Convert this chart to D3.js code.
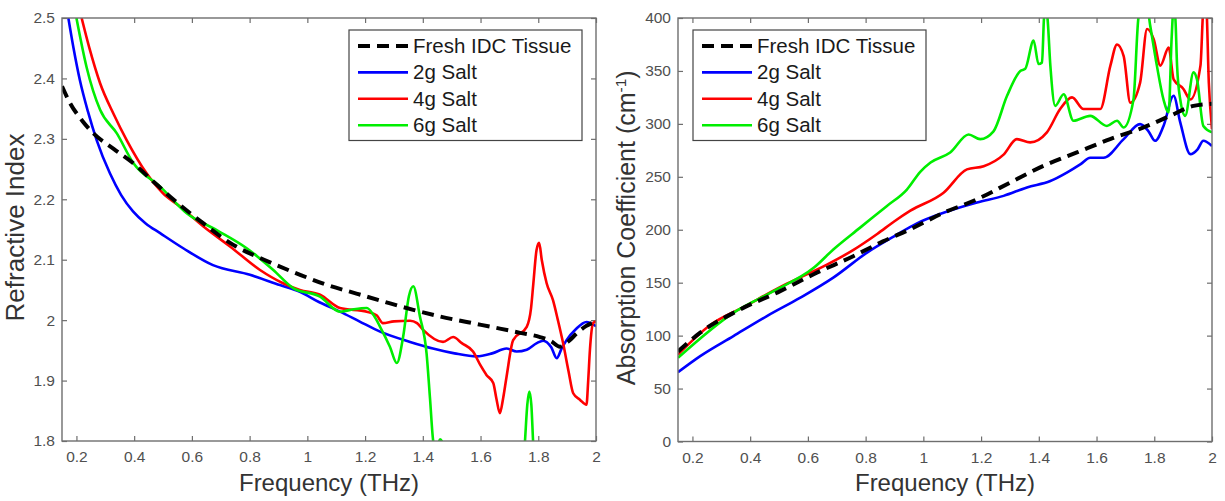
<!DOCTYPE html>
<html>
<head>
<meta charset="utf-8">
<script src="https://cdn.jsdelivr.net/npm/d3@7"></script>
<style>
  html, body { margin: 0; padding: 0; background: #fff; }
  svg { display: block; font-family: "Liberation Sans", Arial, Helvetica, sans-serif; }
</style>
</head>
<body>
<svg id="chart" width="1225" height="501"></svg>
<script>
// ---- shared axis ticks ----
const freqTicks = [0.2, 0.4, 0.6, 0.8, 1, 1.2, 1.4, 1.6, 1.8, 2];
const freqTickLabels = ["0.2", "0.4", "0.6", "0.8", "1", "1.2", "1.4", "1.6", "1.8", "2"];
const riTicks = [1.8, 1.9, 2, 2.1, 2.2, 2.3, 2.4, 2.5];
const riTickLabels = ["1.8", "1.9", "2", "2.1", "2.2", "2.3", "2.4", "2.5"];
const absTicks = [0, 50, 100, 150, 200, 250, 300, 350, 400];
const absTickLabels = ["0", "50", "100", "150", "200", "250", "300", "350", "400"];

const seriesNames = ["Fresh IDC Tissue", "2g Salt", "4g Salt", "6g Salt"];
const seriesColors = ["#000000", "#0000ff", "#ff0000", "#00ee00"];

// ---- refractive index (frequency THz, index) ----
const riFresh = [[0.15,2.387],[0.177,2.36],[0.22,2.33],[0.257,2.31],[0.33,2.283],[0.396,2.26],[0.465,2.23],[0.535,2.2],[0.64,2.16],[0.742,2.125],[0.85,2.1],[0.975,2.075],[1.07,2.058],[1.17,2.044],[1.27,2.03],[1.367,2.017],[1.46,2.006],[1.552,1.997],[1.667,1.986],[1.737,1.979],[1.806,1.972],[1.845,1.965],[1.875,1.956],[1.905,1.965],[1.933,1.978],[1.965,1.99],[2.0,1.998]];
const ri2g = [[0.172,2.5],[0.19,2.45],[0.212,2.397],[0.24,2.345],[0.27,2.298],[0.316,2.243],[0.355,2.207],[0.396,2.18],[0.44,2.16],[0.49,2.144],[0.57,2.119],[0.673,2.091],[0.801,2.075],[0.905,2.058],[0.974,2.047],[1.04,2.03],[1.113,2.014],[1.18,1.998],[1.252,1.981],[1.356,1.964],[1.435,1.953],[1.51,1.945],[1.587,1.94],[1.64,1.945],[1.69,1.953],[1.725,1.948],[1.76,1.951],[1.795,1.962],[1.817,1.966],[1.845,1.955],[1.864,1.937],[1.88,1.952],[1.898,1.967],[1.93,1.985],[1.967,1.997],[2.0,1.99]];
const ri4g = [[0.218,2.5],[0.245,2.45],[0.282,2.392],[0.33,2.34],[0.374,2.298],[0.443,2.243],[0.5,2.21],[0.559,2.188],[0.64,2.155],[0.732,2.122],[0.836,2.083],[0.916,2.061],[0.974,2.05],[1.044,2.042],[1.113,2.02],[1.206,2.014],[1.24,2.008],[1.262,1.995],[1.3,1.998],[1.356,1.999],[1.38,1.995],[1.401,1.984],[1.47,1.964],[1.505,1.972],[1.535,1.962],[1.574,1.948],[1.6,1.925],[1.621,1.909],[1.644,1.896],[1.655,1.87],[1.667,1.846],[1.678,1.87],[1.69,1.906],[1.713,1.967],[1.76,1.989],[1.775,2.02],[1.783,2.061],[1.794,2.116],[1.803,2.128],[1.812,2.1],[1.829,2.061],[1.851,2.033],[1.868,2.0],[1.886,1.962],[1.905,1.915],[1.921,1.879],[1.945,1.868],[1.967,1.86],[1.973,1.9],[1.979,1.951],[1.99,1.995],[2.0,1.998]];
const ri6g = [[0.2,2.5],[0.235,2.419],[0.282,2.348],[0.34,2.309],[0.397,2.26],[0.49,2.221],[0.582,2.177],[0.686,2.149],[0.79,2.119],[0.882,2.083],[0.951,2.053],[1.044,2.039],[1.113,2.014],[1.16,2.018],[1.206,2.02],[1.23,2.008],[1.252,1.989],[1.286,1.956],[1.31,1.929],[1.332,1.973],[1.352,2.04],[1.367,2.056],[1.39,2.006],[1.413,1.945],[1.425,1.87],[1.436,1.80],[1.445,1.785],[1.46,1.803],[1.475,1.785],[1.49,1.7],[1.74,1.7],[1.754,1.80],[1.762,1.86],[1.769,1.882],[1.776,1.86],[1.782,1.80],[1.795,1.7]];

// ---- absorption coefficient (frequency THz, cm^-1) ----
const absFresh = [[0.15,85],[0.227,102.8],[0.366,124.8],[0.504,142],[0.62,158],[0.757,175],[0.86,189],[0.955,200.5],[1.07,216],[1.186,228.8],[1.301,244.6],[1.416,260.3],[1.532,273],[1.647,285.6],[1.763,296.6],[1.855,307.6],[1.936,317],[2.0,319]];
const abs2g = [[0.15,65.5],[0.227,80.7],[0.342,99.6],[0.458,118.5],[0.574,135.9],[0.688,154.8],[0.805,178.4],[0.9,194],[0.978,206],[1.07,216],[1.186,225.7],[1.278,232],[1.359,240],[1.44,246],[1.497,254],[1.545,262],[1.578,268],[1.624,268],[1.694,285.6],[1.751,299.8],[1.78,293],[1.803,284],[1.832,298],[1.867,326.5],[1.89,301.4],[1.925,271.4],[1.95,276],[1.97,284],[2.0,279]];
const abs4g = [[0.15,82],[0.262,110],[0.377,127],[0.527,149],[0.666,167],[0.758,181],[0.84,196],[0.9,208],[0.955,218],[1.07,235],[1.151,257],[1.209,260],[1.278,271],[1.324,285.6],[1.37,282.5],[1.428,292],[1.474,314],[1.515,325],[1.555,314],[1.613,314],[1.648,355],[1.671,375],[1.694,364],[1.717,320],[1.751,339],[1.775,389.6],[1.798,380],[1.821,355],[1.85,372],[1.867,342],[1.901,333],[1.925,323],[1.96,355],[1.971,410],[1.98,410],[1.989,339],[2.0,295]];
const abs6g = [[0.15,79],[0.343,121.7],[0.481,142],[0.62,164],[0.689,181.6],[0.781,202],[0.874,222.5],[0.943,238],[0.99,255],[1.025,263.5],[1.093,273],[1.157,290],[1.197,285.6],[1.243,293],[1.29,326.5],[1.336,350],[1.353,352],[1.382,378.6],[1.399,356.5],[1.411,358],[1.418,400],[1.422,410],[1.43,400],[1.44,355],[1.457,317],[1.486,328],[1.52,303],[1.578,307.6],[1.636,298],[1.671,303],[1.694,296.6],[1.728,323],[1.745,400],[1.755,410],[1.775,410],[1.786,392.7],[1.809,355],[1.832,323],[1.85,311],[1.86,380],[1.867,410],[1.873,400],[1.879,355],[1.89,323],[1.907,307.6],[1.936,348.6],[1.948,342],[1.97,298],[2.0,292]];

const svg = d3.select("#chart");
const freqDomain = [0.15, 2];

function drawPanel(opts) {
  const { id, left, right, top, bottom, yDomain, yTicks, yTickLabels, series, yLabel, yLabelX, yLabelSize, legendX } = opts;
  const x = d3.scaleLinear().domain(freqDomain).range([left, right]);
  const y = d3.scaleLinear().domain(yDomain).range([bottom, top]);
  const g = svg.append("g").attr("class", id);

  g.append("clipPath").attr("id", id + "-clip")
    .append("rect").attr("x", left).attr("y", top).attr("width", right - left).attr("height", bottom - top);

  const tickStyle = sel => {
    sel.select(".domain").remove();
    sel.selectAll(".tick line").attr("stroke", "#6e6e6e").attr("stroke-width", 1.2);
    sel.selectAll(".tick text").attr("fill", "#505050").style("font-size", "15.5px");
  };

  // bottom / left labelled axes with inward ticks
  g.append("g").attr("transform", `translate(0,${bottom})`)
    .call(d3.axisBottom(x).tickValues(freqTicks).tickFormat((d, i) => freqTickLabels[i]).tickSize(-5).tickPadding(10))
    .call(tickStyle);
  g.append("g").attr("transform", `translate(${left},0)`)
    .call(d3.axisLeft(y).tickValues(yTicks).tickFormat((d, i) => yTickLabels[i]).tickSize(-5).tickPadding(7))
    .call(tickStyle);
  // mirrored ticks on top / right
  g.append("g").attr("transform", `translate(0,${top})`)
    .call(d3.axisTop(x).tickValues(freqTicks).tickFormat("").tickSize(-5))
    .call(tickStyle);
  g.append("g").attr("transform", `translate(${right},0)`)
    .call(d3.axisRight(y).tickValues(yTicks).tickFormat("").tickSize(-5))
    .call(tickStyle);

  // curves
  const line = d3.line().x(d => x(d[0])).y(d => y(d[1])).curve(d3.curveMonotoneX);
  const plot = g.append("g").attr("clip-path", `url(#${id}-clip)`);
  // draw the coloured series first, the dashed reference on top
  [1, 2, 3, 0].forEach(i => {
    plot.append("path").datum(series[i])
      .attr("fill", "none")
      .attr("stroke", seriesColors[i])
      .attr("stroke-width", i === 0 ? 4 : 2.6)
      .attr("stroke-dasharray", i === 0 ? "12,7" : null)
      .attr("stroke-linejoin", "round")
      .attr("d", line);
  });

  // box
  g.append("rect").attr("x", left).attr("y", top).attr("width", right - left).attr("height", bottom - top)
    .attr("fill", "none").attr("stroke", "#6e6e6e").attr("stroke-width", 1.4);

  // x label
  g.append("text").attr("x", (left + right) / 2).attr("y", 491)
    .attr("text-anchor", "middle").attr("fill", "#333").style("font-size", "24px")
    .text("Frequency (THz)");

  // y label
  const yl = g.append("text")
    .attr("transform", `translate(${yLabelX},${(top + bottom) / 2 - 2}) rotate(-90)`)
    .attr("text-anchor", "middle").attr("fill", "#333").style("font-size", yLabelSize + "px");
  yLabel.forEach(part => {
    const t = yl.append("tspan").text(part.text);
    if (part.sup) t.attr("dy", "-0.55em").style("font-size", "0.62em");
    if (part.after) t.attr("dy", "0.34em");
  });

  // legend
  const lg = g.append("g").attr("transform", `translate(${legendX},30)`);
  lg.append("rect").attr("x", 0).attr("y", 0).attr("width", 233).attr("height", 110.5)
    .attr("fill", "#fff").attr("stroke", "#444").attr("stroke-width", 1.2);
  seriesNames.forEach((name, i) => {
    const cy = 16 + i * 26.4;
    lg.append("line").attr("x1", 9).attr("x2", 59).attr("y1", cy).attr("y2", cy)
      .attr("stroke", seriesColors[i])
      .attr("stroke-width", i === 0 ? 4 : 2.6)
      .attr("stroke-dasharray", i === 0 ? "12,7" : null);
    lg.append("text").attr("x", 64).attr("y", cy + 7).attr("fill", "#1a1a1a")
      .style("font-size", "20.5px").text(name);
  });
}

drawPanel({
  id: "ri", left: 62, right: 596, top: 18, bottom: 441,
  yDomain: [1.8, 2.5], yTicks: riTicks, yTickLabels: riTickLabels,
  series: [riFresh, ri2g, ri4g, ri6g],
  yLabel: [{ text: "Refractive Index" }], yLabelX: 24, yLabelSize: 26,
  legendX: 349
});

drawPanel({
  id: "abs", left: 678, right: 1212, top: 18, bottom: 441.5,
  yDomain: [0, 400], yTicks: absTicks, yTickLabels: absTickLabels,
  series: [absFresh, abs2g, abs4g, abs6g],
  yLabel: [{ text: "Absorption Coefficient (cm" }, { text: "-1", sup: true }, { text: ")", after: true }],
  yLabelX: 635, yLabelSize: 25,
  legendX: 693
});
</script>
</body>
</html>
